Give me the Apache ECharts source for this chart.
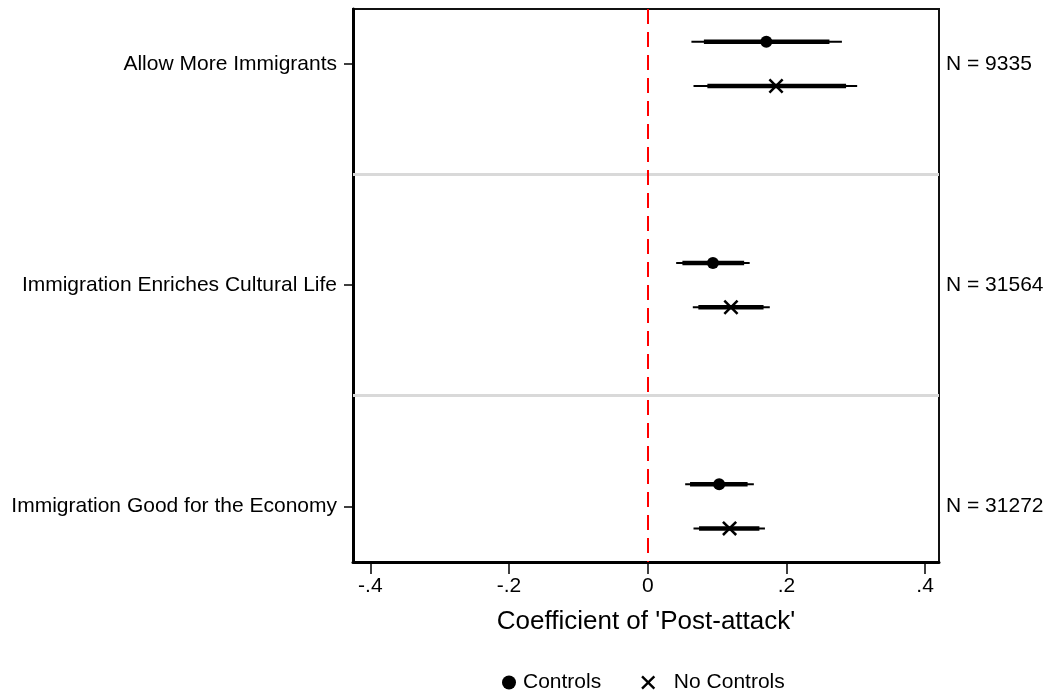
<!DOCTYPE html>
<html>
<head>
<meta charset="utf-8">
<script src="https://cdn.jsdelivr.net/npm/echarts@6/dist/echarts.min.js"></script>
<style>
  html, body { margin: 0; padding: 0; background: #fff; }
  #chart { width: 1049px; height: 696px; }
</style>
</head>
<body>
<div id="chart"></div>
<script>
// Outcomes (top to bottom) and their sample sizes
const outcomes = ['Allow More Immigrants', 'Immigration Enriches Cultural Life', 'Immigration Good for the Economy'];
const sampleLabels = ['N = 9335', 'N = 31564', 'N = 31272'];

// Coefficient of 'Post-attack' with controls: point estimate, 95% and 90% intervals
const controlsCoef = [0.171, 0.094, 0.103];
const controlsLo95 = [0.063, 0.041, 0.054];
const controlsHi95 = [0.280, 0.147, 0.153];
const controlsLo90 = [0.081, 0.050, 0.061];
const controlsHi90 = [0.262, 0.139, 0.144];

// Same coefficient without controls
const noControlsCoef = [0.185, 0.120, 0.118];
const noControlsLo95 = [0.066, 0.065, 0.066];
const noControlsHi95 = [0.302, 0.176, 0.169];
const noControlsLo90 = [0.086, 0.073, 0.074];
const noControlsHi90 = [0.286, 0.167, 0.161];

// x-axis ticks
const xTicks = [-0.4, -0.2, 0, 0.2, 0.4];

const FONT = '"Liberation Sans", Arial, Helvetica, sans-serif';
const GROUP_STEP = 5;      // spacing between outcomes on the y scale
const MODEL_OFFSET = 0.5;  // offset of each model around the outcome position

const groupPos = outcomes.map((_, i) => i * GROUP_STEP);
const separators = groupPos.slice(0, -1).map(p => p + GROUP_STEP / 2);

function ciData(lo95, hi95, lo90, hi90, offset) {
  return outcomes.map((_, i) => [lo95[i], hi95[i], lo90[i], hi90[i], groupPos[i] + offset]);
}
function pointData(coef, offset) {
  return outcomes.map((_, i) => [coef[i], groupPos[i] + offset]);
}

function renderCI(params, api) {
  const y = api.value(4);
  const a = api.coord([api.value(0), y]);
  const b = api.coord([api.value(1), y]);
  const c = api.coord([api.value(2), y]);
  const d = api.coord([api.value(3), y]);
  return {
    type: 'group',
    children: [
      { type: 'line', shape: { x1: a[0], y1: a[1], x2: b[0], y2: b[1] },
        style: { stroke: '#000', lineWidth: 2 } },
      { type: 'line', shape: { x1: c[0], y1: c[1], x2: d[0], y2: d[1] },
        style: { stroke: '#000', lineWidth: 4.5 } }
    ]
  };
}

// filled "x" cross marker
const X_SYMBOL = 'path://M2.4,0 L10,7.6 L17.6,0 L20,2.4 L12.4,10 L20,17.6 L17.6,20 L10,12.4 L2.4,20 L0,17.6 L7.6,10 L0,2.4 Z';

const yMin = -1.24, yMax = 11.26;

const option = {
  animation: false,
  backgroundColor: '#fff',
  textStyle: { fontFamily: FONT },
  grid: {
    left: 353, right: 110, top: 9, bottom: 134,
    show: true, borderColor: '#111', borderWidth: 2, backgroundColor: 'transparent'
  },
  legend: {
    data: [
      { name: 'Controls', icon: 'circle', itemStyle: { opacity: 1 } },
      { name: 'No Controls', icon: X_SYMBOL, itemStyle: { opacity: 1 } }
    ],
    left: 497, top: 667,
    itemWidth: 14, itemHeight: 14, itemGap: 40,
    formatter: name => (name === 'No Controls' ? '\u00a0\u00a0' + name : name),
    textStyle: { fontFamily: FONT, fontSize: 21, color: '#000', padding: [0, 0, 0, 2] }
  },
  xAxis: {
    type: 'value',
    min: -0.425, max: 0.42,
    splitLine: { show: false },
    axisLine: { show: true, onZero: false, lineStyle: { color: '#000', width: 3 } },
    axisTick: { show: true, length: 12, customValues: xTicks, lineStyle: { color: '#000', width: 1.5 } },
    axisLabel: {
      customValues: xTicks, margin: 14, color: '#000', fontFamily: FONT, fontSize: 21,
      formatter: v => (v === 0 ? '0' : String(v).replace('0.', '.'))
    },
    name: "Coefficient of 'Post-attack'",
    nameLocation: 'middle', nameGap: 47,
    nameTextStyle: { fontFamily: FONT, fontSize: 26, color: '#000' }
  },
  yAxis: [
    {
      type: 'value', inverse: true, min: yMin, max: yMax, position: 'left',
      splitLine: { show: false },
      axisLine: { show: true, onZero: false, lineStyle: { color: '#000', width: 3 } },
      axisTick: { show: true, length: 9, customValues: groupPos, lineStyle: { color: '#000', width: 1.5 } },
      axisLabel: {
        customValues: groupPos, margin: 16, color: '#000', fontFamily: FONT, fontSize: 21,
        formatter: v => outcomes[Math.round(v / GROUP_STEP)]
      }
    },
    {
      type: 'value', inverse: true, min: yMin, max: yMax, position: 'right',
      splitLine: { show: false },
      axisLine: { show: false },
      axisTick: { show: false },
      axisLabel: {
        customValues: groupPos, margin: 7, color: '#000', fontFamily: FONT, fontSize: 21,
        formatter: v => sampleLabels[Math.round(v / GROUP_STEP)]
      }
    }
  ],
  series: [
    {
      type: 'custom', name: 'ci-controls', silent: true, z: 3,
      renderItem: renderCI,
      encode: { x: [0, 1, 2, 3], y: 4 },
      data: ciData(controlsLo95, controlsHi95, controlsLo90, controlsHi90, -MODEL_OFFSET),
      markLine: {
        silent: true, symbol: 'none', label: { show: false },
        lineStyle: { color: '#d9d9d9', width: 3, type: 'solid' },
        data: separators.map(s => ({ yAxis: s }))
      }
    },
    {
      type: 'custom', name: 'ci-nocontrols', silent: true, z: 3,
      renderItem: renderCI,
      encode: { x: [0, 1, 2, 3], y: 4 },
      data: ciData(noControlsLo95, noControlsHi95, noControlsLo90, noControlsHi90, MODEL_OFFSET),
      markLine: {
        silent: true, symbol: 'none', label: { show: false },
        lineStyle: { color: '#ff0000', width: 2, type: [15, 8] },
        data: [{ xAxis: 0 }]
      }
    },
    {
      type: 'scatter', name: 'Controls', z: 4,
      symbol: 'circle', symbolSize: 12,
      itemStyle: { color: '#000', opacity: 1 },
      data: pointData(controlsCoef, -MODEL_OFFSET)
    },
    {
      type: 'scatter', name: 'No Controls', z: 4,
      symbol: X_SYMBOL, symbolSize: 15,
      itemStyle: { color: '#000', opacity: 1 },
      data: pointData(noControlsCoef, MODEL_OFFSET)
    }
  ]
};

const chart = echarts.init(document.getElementById('chart'), null, { renderer: 'canvas' });
chart.setOption(option);
</script>
</body>
</html>
